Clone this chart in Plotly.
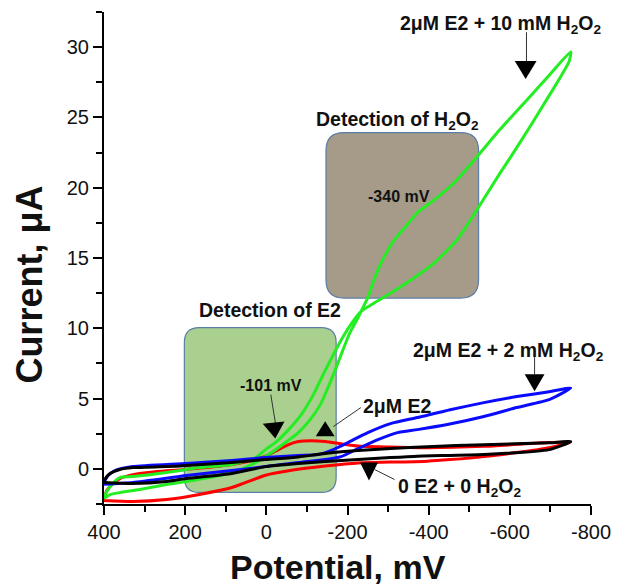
import math
import plotly.graph_objects as go

# ---------------- data ----------------
# Green: 2 uM E2 + 10 mM H2O2
green_fwd_x = [400, 385, 361, 312, 246, 197, 141, 85, 26, -13, -47, -79, -108, -133, -152, -172, -189, -206, -226, -233,
               -250, -270, -292, -316, -341, -372, -414, -463, -519, -575, -641, -697, -750]
green_fwd_y = [-2.11, -1.83, -1.69, -1.47, -1.12, -0.90, -0.62, -0.26, 0.45, 1.16, 1.87, 2.58, 3.50, 4.57, 5.78, 7.20, 8.48,
               9.69, 10.75, 11.18, 12.18, 13.82, 15.17, 16.30, 17.15, 18.22, 19.14, 20.35, 22.20, 24.12, 26.20, 28.00, 29.67]
green_rev_x = [-746, -683, -617, -575, -519, -470, -414, -331, -304, -275, -255, -233, -213, -189, -165, -140, -116, -86,
               -55, -25, 2, 26, 85, 165, 246, 329, 361, 385, 400]
green_rev_y = [28.98, 25.90, 22.85, 21.00, 18.43, 16.30, 14.66, 12.95, 12.46, 11.96, 11.61, 11.18, 10.47, 9.40, 8.12, 6.71,
               5.28, 3.86, 2.79, 1.94, 1.37, 0.80, 0.31, 0.09, -0.26, -0.55, -0.62, -1.26, -1.97]

# Blue: 2 uM E2 + 2 mM H2O2
blue_fwd_x = [400, 329, 197, 85, 2, -79, -145, -184, -226, -275, -323, -372, -446, -536, -617, -697, -727, -750]
blue_fwd_y = [-1.10, -0.97, -0.48, -0.12, 0.16, 0.45, 0.66, 0.87, 1.44, 2.08, 2.58, 2.79, 3.15, 3.72, 4.36, 4.93, 5.35, 5.75]
blue_rev_x = [-697, -617, -536, -453, -372, -306, -250, -201, -165, -128, -79, 2, 85, 197, 329, 373, 390, 400]
blue_rev_y = [5.49, 5.14, 4.71, 4.21, 3.65, 3.22, 2.58, 1.87, 1.37, 1.02, 0.95, 0.80, 0.59, 0.38, 0.16, -0.12, -0.48, -0.97]

# Black: 0 E2 + 0 H2O2
black_fwd_x = [400, 329, 246, 197, 85, 2, -79, -145, -226, -306, -372, -536, -697, -750]
black_fwd_y = [-0.97, -1.04, -0.90, -0.69, -0.33, 0.16, 0.38, 0.52, 0.66, 0.80, 0.90, 1.02, 1.37, 1.94]
black_rev_x = [-697, -536, -397, -306, -226, -145, -79, 2, 85, 197, 246, 329, 361, 385, 393, 400]
black_rev_y = [1.85, 1.72, 1.58, 1.45, 1.30, 1.10, 0.85, 0.66, 0.45, 0.23, 0.16, 0.09, -0.05, -0.33, -0.55, -0.83]

# Red: 2 uM E2
red_fwd_x = [400, 329, 246, 165, 85, 2, -62, -145, -226, -306, -397, -453, -536, -617, -697, -750]
red_fwd_y = [-2.25, -2.32, -2.18, -1.82, -1.33, -0.45, -0.10, 0.20, 0.42, 0.48, 0.55, 0.66, 0.87, 1.16, 1.51, 1.90]
red_rev_x = [-697, -536, -397, -306, -226, -184, -145, -110, -79, -55, -30, -6, 26, 85, 202, 270, 329, 361, 378, 393, 400]
red_rev_y = [1.87, 1.60, 1.50, 1.55, 1.62, 1.78, 1.94, 2.00, 1.94, 1.73, 1.37, 1.02, 0.66, 0.31, -0.05, -0.19, -0.41,
             -0.69, -1.05, -1.54, -2.18]

x_tickvals = [400, 200, 0, -200, -400, -600, -800]
x_ticktext = ["400", "200", "0", "-200", "-400", "-600", "-800"]
y_tickvals = [0, 5, 10, 15, 20, 25, 30]

# ---------------- layout geometry ----------------
W, H = 623, 588
M = dict(l=104, r=28, t=12, b=84)
XR = [400, -800]
YR = [-2.5, 32.5]
PW = W - M["l"] - M["r"]
PH = H - M["t"] - M["b"]
UX = (XR[0] - XR[1]) / PW   # data units per pixel (x decreases to the right)
UY = (YR[1] - YR[0]) / PH

FONT = "Liberation Sans, Arial, sans-serif"


def loop(fx, fy, rx, ry):
    return fx + rx, fy + ry


def rrect(xl, xr, yt, yb, r):
    rx, ry = r * UX, r * UY
    return (f"M {xl - rx},{yt} L {xr + rx},{yt} Q {xr},{yt} {xr},{yt - ry} "
            f"L {xr},{yb + ry} Q {xr},{yb} {xr + rx},{yb} L {xl - rx},{yb} "
            f"Q {xl},{yb} {xl},{yb + ry} L {xl},{yt - ry} Q {xl},{yt} {xl - rx},{yt} Z")


def tri(cx, cy, w, h, up=False, ang=0.0):
    # pixel offsets (x right, y down) for a down-pointing triangle
    pts = [(-w / 2, -h / 2), (w / 2, -h / 2), (0, h / 2)]
    if up:
        pts = [(-w / 2, h / 2), (w / 2, h / 2), (0, -h / 2)]
    a = math.radians(ang)
    out = []
    for px, py in pts:
        qx = px * math.cos(a) - py * math.sin(a)
        qy = px * math.sin(a) + py * math.cos(a)
        out.append((cx - qx * UX, cy - qy * UY))
    return "M " + " L ".join(f"{x},{y}" for x, y in out) + " Z"


fig = go.Figure()

curves = [
    (red_fwd_x, red_fwd_y, red_rev_x, red_rev_y, "#ff0000"),
    (green_fwd_x, green_fwd_y, green_rev_x, green_rev_y, "#22ee22"),
    (blue_fwd_x, blue_fwd_y, blue_rev_x, blue_rev_y, "#0a0aff"),
    (black_fwd_x, black_fwd_y, black_rev_x, black_rev_y, "#000000"),
]
for fx, fy, rx, ry, col in curves:
    xs, ys = loop(fx, fy, rx, ry)
    fig.add_trace(go.Scatter(x=xs, y=ys, mode="lines",
                             line=dict(color=col, width=3, shape="spline", smoothing=0.6),
                             showlegend=False, hoverinfo="skip"))

shapes = []
# highlight boxes
shapes.append(dict(type="path", path=rrect(202, -172, 10.05, -1.68, 15), layer="below",
                   fillcolor="#a9d08e", line=dict(color="#5b7ea6", width=1.2)))
shapes.append(dict(type="path", path=rrect(-147, -523, 23.92, 12.15, 18), layer="below",
                   fillcolor="#a69a89", line=dict(color="#5b7ea6", width=1.2)))

# pointer lines
lines = [(-641, 31.06, -641, 28.86), (-661, 7.99, -661, 6.71), (-233, 4.36, -165, 3.01),
         (-316, -0.76, -267, -0.05), (-11, 5.28, -23, 3.15)]
for x0, y0, x1, y1 in lines:
    shapes.append(dict(type="line", x0=x0, y0=y0, x1=x1, y1=y1, layer="above",
                       line=dict(color="#333333", width=1)))

# arrow heads
shapes.append(dict(type="path", path=tri(-639, 28.38, 22, 18), fillcolor="black", line=dict(width=0), layer="above"))
shapes.append(dict(type="path", path=tri(-661, 6.13, 20, 17), fillcolor="black", line=dict(width=0), layer="above"))
shapes.append(dict(type="path", path=tri(-145, 2.86, 19, 15, up=True), fillcolor="black", line=dict(width=0), layer="above"))
shapes.append(dict(type="path", path=tri(-253, -0.19, 18, 18), fillcolor="black", line=dict(width=0), layer="above"))
shapes.append(dict(type="path", path=tri(-20, 2.72, 22, 16, ang=-6), fillcolor="black", line=dict(width=0), layer="above"))

annots = [
    ("<b>2μM E2 + 10 mM H<sub>2</sub>O<sub>2</sub></b>", -578, 31.6, 19.5),
    ("<b>Detection of H<sub>2</sub>O<sub>2</sub></b>", -323, 24.8, 19.5),
    ("<b>-340 mV</b>", -326, 19.35, 16),
    ("<b>Detection of E2</b>", -8, 11.33, 19.5),
    ("<b>-101 mV</b>", -11, 5.93, 16),
    ("<b>2μM E2 + 2 mM H<sub>2</sub>O<sub>2</sub></b>", -597, 8.35, 19.5),
    ("<b>2μM E2</b>", -321, 4.5, 19.5),
    ("<b>0 E2 + 0 H<sub>2</sub>O<sub>2</sub></b>", -477, -1.3, 19.5),
]
annotations = []
for t, x, y, s in annots:
    annotations.append(dict(text=t, x=x, y=y, xref="x", yref="y", showarrow=False,
                            font=dict(family=FONT, size=s, color="#111111"),
                            xanchor="center", yanchor="middle"))

annotations.append(dict(text="<b>Potential, mV</b>", x=(340 - M["l"]) / PW, y=(H - M["b"] - 567) / PH,
                        xref="paper", yref="paper", showarrow=False, xanchor="center", yanchor="middle",
                        font=dict(family=FONT, size=34, color="#111111")))
annotations.append(dict(text="<b>Current, μA</b>", x=(28 - M["l"]) / PW, y=(H - M["b"] - 285) / PH,
                        xref="paper", yref="paper", showarrow=False, xanchor="center", yanchor="middle",
                        textangle=-90, font=dict(family=FONT, size=36, color="#111111")))

axis_common = dict(showgrid=False, zeroline=False, showline=True, linecolor="black", linewidth=2,
                   ticks="outside", ticklen=9, tickwidth=2, tickcolor="black",
                   tickfont=dict(family=FONT, size=20, color="#111111"))

fig.update_layout(
    width=W, height=H, margin=dict(l=M["l"], r=M["r"], t=M["t"], b=M["b"], pad=0),
    paper_bgcolor="white", plot_bgcolor="white",
    shapes=shapes, annotations=annotations,
    xaxis=dict(range=XR, tickvals=x_tickvals, ticktext=x_ticktext,
               minor=dict(ticks="outside", dtick=100, tick0=0, ticklen=6, tickwidth=2, tickcolor="black"),
               **axis_common),
    yaxis=dict(range=YR, tickvals=y_tickvals,
               minor=dict(ticks="outside", dtick=2.5, tick0=0, ticklen=6, tickwidth=2, tickcolor="black"),
               **axis_common),
)

fig.write_html("out.html")
